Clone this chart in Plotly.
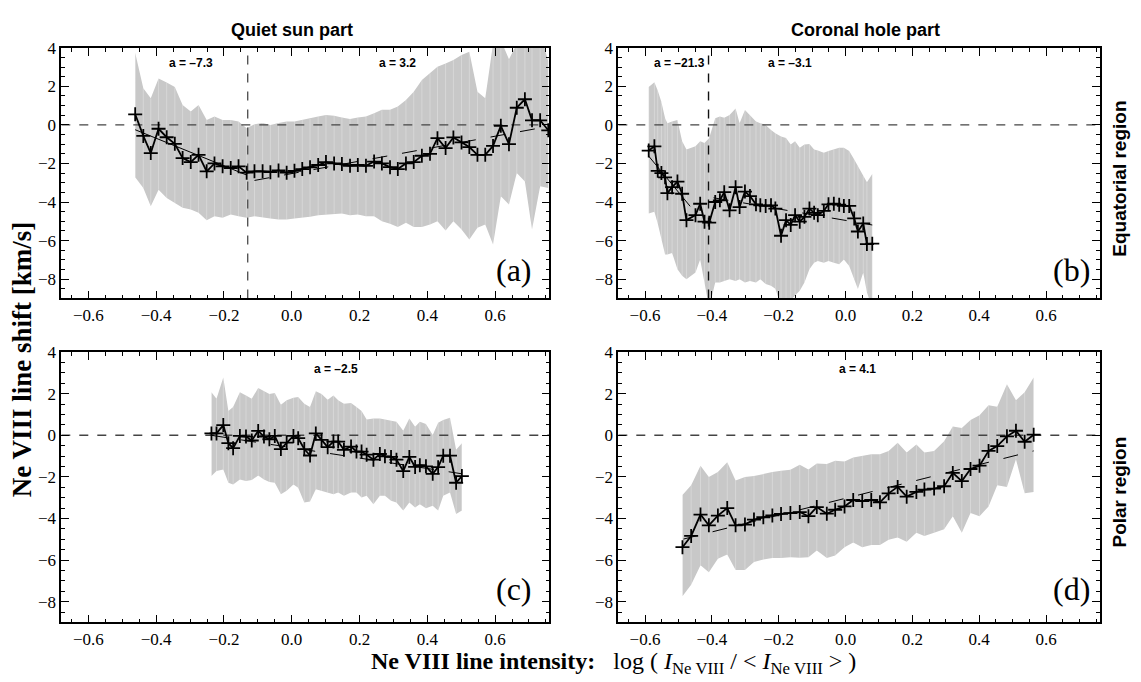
import plotly.graph_objects as go

W, H = 1141, 682

# ---------------- data ----------------
# Panel (a): quiet sun, equatorial
a_x = [-0.462, -0.438, -0.416, -0.393, -0.369, -0.345, -0.322, -0.298, -0.275, -0.251,
       -0.228, -0.204, -0.180, -0.157, -0.133, -0.110, -0.086, -0.063, -0.039, -0.015,
       0.008, 0.031, 0.054, 0.078, 0.101, 0.125, 0.148, 0.172, 0.195, 0.219,
       0.243, 0.266, 0.290, 0.313, 0.337, 0.360, 0.384, 0.408, 0.430, 0.454,
       0.477, 0.501, 0.524, 0.548, 0.571, 0.594, 0.617, 0.641, 0.664, 0.688,
       0.709, 0.733, 0.757]
a_y = [0.55, -0.57, -1.46, -0.20, -0.64, -0.98, -1.72, -1.93, -1.55, -2.41,
       -2.00, -2.15, -2.24, -2.15, -2.48, -2.41, -2.41, -2.45, -2.36, -2.48,
       -2.38, -2.29, -2.20, -2.08, -1.93, -2.00, -2.03, -2.12, -2.08, -2.12,
       -1.90, -2.00, -2.19, -2.29, -2.00, -1.93, -1.60, -1.50, -0.69, -1.20,
       -0.65, -0.91, -1.15, -1.55, -1.55, -1.09, -0.05, -1.00, 0.89, 1.33,
       0.24, 0.24, -0.28]
a_up = [3.74, 1.90, 1.38, 2.41, 2.20, 1.96, 1.03, 0.69, 1.03, 0.26,
        0.43, 0.26, 0.26, 0.18, -0.17, 0.04, 0.10, 0.00, 0.10, 0.18,
        0.18, 0.26, 0.31, 0.43, 0.52, 0.48, 0.38, 0.31, 0.38, 0.43,
        0.60, 0.78, 0.78, 0.95, 1.29, 1.72, 2.33, 2.67, 3.01, 3.19,
        3.36, 3.62, 3.79, 1.72, 1.38, 4.20, 4.40, 3.40, 4.20, 4.80,
        5.80, 4.80, 3.30]
a_lo = [-2.72, -3.27, -4.22, -3.36, -3.79, -4.05, -4.30, -4.39, -4.56, -4.94,
        -4.74, -4.82, -4.65, -4.74, -4.82, -4.74, -4.82, -4.86, -4.91, -4.91,
        -4.86, -4.82, -4.77, -4.69, -4.65, -4.60, -4.59, -4.69, -4.65, -4.74,
        -4.74, -5.00, -5.13, -5.30, -5.08, -5.30, -5.30, -5.17, -5.00, -5.48,
        -5.00, -5.43, -5.94, -5.34, -5.17, -6.20, -3.70, -4.13, -2.50, -2.93,
        -5.43, -3.18, -3.27]

# Panel (b): coronal hole, equatorial
b_x = [-0.589, -0.572, -0.562, -0.551, -0.540, -0.533, -0.519, -0.503, -0.489, -0.476,
       -0.449, -0.435, -0.422, -0.408, -0.390, -0.376, -0.363, -0.347, -0.329, -0.317,
       -0.301, -0.286, -0.268, -0.255, -0.239, -0.223, -0.210, -0.193, -0.178, -0.164,
       -0.151, -0.137, -0.123, -0.108, -0.094, -0.083, -0.065, -0.051, -0.035, -0.019,
       -0.005, 0.011, 0.026, 0.037, 0.053, 0.064, 0.080]
b_y = [-1.33, -1.11, -2.38, -2.50, -2.72, -3.54, -3.23, -2.94, -3.57, -4.94,
       -4.68, -4.09, -5.02, -5.07, -4.00, -3.91, -3.49, -4.43, -3.23, -4.26,
       -3.46, -3.69, -4.12, -4.17, -4.20, -4.17, -4.34, -5.75, -4.94, -5.19,
       -4.68, -5.02, -4.77, -4.34, -4.56, -4.68, -4.46, -4.12, -4.09, -4.14,
       -4.20, -4.20, -4.85, -5.53, -5.11, -6.18, -6.16]
b_up = [1.96, 2.21, 1.79, 1.19, 0.34, 0.09, 0.17, 0.26, -0.85, -1.28,
        -1.11, -0.85, -0.94, -0.68, 0.34, 0.43, 0.37, 0.51, 0.85, 0.09,
        0.77, 0.51, 0.17, 0.09, 0.00, -0.26, -0.43, -0.60, -0.68, -1.02,
        -0.85, -1.19, -1.02, -0.99, -1.28, -1.33, -1.45, -1.36, -1.28, -1.19,
        -1.19, -1.36, -1.79, -2.13, -2.64, -2.98, -2.55]
b_lo = [-4.60, -4.51, -5.11, -5.96, -6.72, -6.72, -6.64, -7.49, -7.83, -8.00,
        -7.66, -6.98, -8.34, -9.50, -8.17, -8.17, -8.10, -8.00, -8.10, -8.00,
        -8.17, -8.10, -8.17, -8.00, -8.25, -8.34, -8.50, -9.40, -9.20, -9.10,
        -8.85, -8.60, -8.17, -7.49, -7.15, -7.06, -7.15, -7.06, -7.15, -7.23,
        -6.98, -7.32, -8.00, -8.51, -7.66, -8.68, -9.53]

# Panel (c): quiet sun, polar
c_x = [-0.237, -0.222, -0.202, -0.187, -0.173, -0.153, -0.135, -0.118, -0.099, -0.082,
       -0.066, -0.050, -0.032, -0.015, 0.005, 0.019, 0.037, 0.054, 0.071, 0.088,
       0.106, 0.123, 0.137, 0.154, 0.175, 0.191, 0.206, 0.221, 0.241, 0.260,
       0.275, 0.293, 0.309, 0.329, 0.347, 0.364, 0.378, 0.396, 0.416, 0.432,
       0.447, 0.467, 0.485, 0.502]
c_y = [0.09, 0.09, 0.49, -0.38, -0.62, -0.03, -0.06, -0.25, 0.21, -0.06,
       -0.19, -0.03, -0.66, -0.35, -0.03, -0.14, -0.66, -0.97, 0.09, -0.22,
       -0.57, -0.30, -0.30, -0.70, -0.54, -0.78, -0.78, -0.93, -1.17, -0.90,
       -1.01, -1.04, -1.17, -1.72, -1.04, -1.52, -1.44, -1.49, -1.85, -1.53,
       -0.98, -0.98, -2.28, -1.96]
c_up = [2.07, 1.76, 2.78, 1.17, 1.36, 2.07, 1.91, 1.76, 2.28, 2.15,
        1.99, 2.03, 1.47, 1.68, 1.80, 1.84, 1.52, 1.36, 2.12, 1.99,
        1.71, 1.91, 1.68, 1.52, 1.55, 1.36, 1.17, 0.76, 0.81, 0.81,
        0.76, 0.73, 0.65, 0.22, 0.81, 0.41, 0.65, 0.54, 0.02, 0.60,
        0.73, 0.84, -0.70, -0.38]
c_lo = [-1.96, -1.72, -1.65, -2.28, -2.36, -2.12, -2.20, -2.15, -1.93, -2.12,
        -2.25, -2.28, -2.83, -2.67, -2.36, -2.52, -3.23, -3.18, -2.59, -2.67,
        -2.75, -2.83, -2.75, -2.91, -2.75, -2.75, -2.99, -2.91, -3.31, -2.91,
        -2.91, -3.15, -3.23, -3.62, -3.23, -3.47, -3.31, -3.51, -3.39, -3.62,
        -2.91, -2.75, -3.78, -3.62]

# Panel (d): coronal hole, polar
d_x = [-0.488, -0.462, -0.434, -0.409, -0.382, -0.354, -0.329, -0.301, -0.274, -0.246,
       -0.219, -0.193, -0.165, -0.137, -0.111, -0.086, -0.056, -0.031, -0.003, 0.023,
       0.050, 0.077, 0.103, 0.129, 0.156, 0.183, 0.212, 0.236, 0.265, 0.295,
       0.321, 0.348, 0.374, 0.401, 0.428, 0.454, 0.483, 0.510, 0.536, 0.563]
d_y = [-5.38, -4.84, -3.81, -4.33, -3.86, -3.50, -4.33, -4.29, -4.05, -3.94,
       -3.85, -3.78, -3.74, -3.69, -3.89, -3.45, -3.77, -3.58, -3.42, -3.11,
       -3.16, -3.11, -3.22, -2.79, -2.48, -2.95, -2.72, -2.61, -2.56, -2.45,
       -1.81, -2.20, -1.62, -1.46, -0.75, -0.52, -0.05, 0.22, -0.31, 0.03]
d_up = [-2.87, -2.40, -1.46, -2.01, -1.77, -1.30, -2.17, -2.01, -1.96, -1.85,
        -1.77, -1.70, -1.66, -1.41, -1.65, -1.35, -1.38, -1.22, -1.26, -1.07,
        -0.99, -0.91, -0.91, -0.75, -0.36, -0.83, -0.44, -0.83, -0.75, -0.28,
        0.42, 0.35, 0.74, 0.97, 1.44, 1.37, 2.46, 1.68, 2.07, 2.78]
d_lo = [-7.74, -7.19, -6.25, -6.59, -5.93, -5.73, -6.48, -6.48, -6.09, -5.97,
        -5.90, -5.90, -5.86, -5.89, -5.86, -5.54, -5.90, -5.78, -5.38, -5.15,
        -5.38, -5.27, -5.27, -5.02, -4.91, -5.12, -4.68, -4.84, -4.68, -4.52,
        -3.89, -4.68, -3.74, -3.89, -3.42, -2.40, -2.48, -1.15, -2.79, -2.72]

# linear fits: (x0, x1, y0, y1, style)
a_fits = [(-0.462, -0.133, -0.25, -2.60, "solid"), (-0.110, 0.757, -2.88, -0.08, "longdash")]
b_fits = [(-0.589, -0.465, -1.62, -4.22, "solid"), (-0.395, 0.080, -3.78, -5.19, "longdash")]
c_fits = [(-0.237, 0.502, 0.00, -1.85, "longdash")]
d_fits = [(-0.485, 0.563, -4.99, -0.75, "longdash")]

# slope labels (text, x, y)
a_slopes = [("a = \u20137.3", -0.297, 3.2), ("a = 3.2", 0.313, 3.2)]
b_slopes = [("a = \u201321.3", -0.497, 3.2), ("a = \u20133.1", -0.167, 3.2)]
c_slopes = [("a = \u20132.5", 0.132, 3.2)]
d_slopes = [("a = 4.1", 0.036, 3.2)]

# vertical separators
a_vline = -0.13
b_vline = -0.41

x_range = [-0.68, 0.76]
y_range = [-9, 4]
x_ticks = [-0.6, -0.4, -0.2, 0.0, 0.2, 0.4, 0.6]
y_ticks = [-8, -6, -4, -2, 0, 2, 4]

# ---------------- figure ----------------
fig = go.Figure()

px = lambda v: v / W
py = lambda v: 1 - v / H

doms = {
    1: ([px(61.3), px(549.3)], [py(293.3), py(39.3)]),
    2: ([px(618.3), px(1099.5)], [py(293.3), py(39.3)]),
    3: ([px(61.3), px(549.3)], [py(621.7), py(347.7)]),
    4: ([px(618.3), px(1099.5)], [py(621.7), py(347.7)]),
}

panels = [
    (1, a_x, a_y, a_up, a_lo, a_fits, a_slopes, a_vline, "(a)"),
    (2, b_x, b_y, b_up, b_lo, b_fits, b_slopes, b_vline, "(b)"),
    (3, c_x, c_y, c_up, c_lo, c_fits, c_slopes, None, "(c)"),
    (4, d_x, d_y, d_up, d_lo, d_fits, d_slopes, None, "(d)"),
]

SERIF = "Liberation Serif"
SANS = "Liberation Sans"
tickfont = dict(family=SERIF, size=17, color="black")
annotations = []

for i, xs, ys, up, lo, fits, slopes, vline, lab in panels:
    xa = "x" if i == 1 else f"x{i}"
    ya = "y" if i == 1 else f"y{i}"
    # band
    fig.add_trace(go.Scatter(x=xs, y=lo, mode="lines", line=dict(width=0, color="#c8c8c8"),
                             xaxis=xa, yaxis=ya, showlegend=False, hoverinfo="skip"))
    fig.add_trace(go.Scatter(x=xs, y=up, mode="lines", line=dict(width=0, color="#c8c8c8"),
                             fill="tonexty", fillcolor="#c8c8c8",
                             xaxis=xa, yaxis=ya, showlegend=False, hoverinfo="skip"))
    # faint stripes
    sx, sy = [], []
    for xv, u, l in zip(xs, up, lo):
        sx += [xv, xv, None]
        sy += [l, u, None]
    fig.add_trace(go.Scatter(x=sx, y=sy, mode="lines", line=dict(width=1, color="rgba(255,255,255,0.28)"),
                             xaxis=xa, yaxis=ya, showlegend=False, hoverinfo="skip"))
    # zero line
    fig.add_trace(go.Scatter(x=x_range, y=[0, 0], mode="lines",
                             line=dict(width=1.4, color="#444", dash="dash"),
                             xaxis=xa, yaxis=ya, showlegend=False, hoverinfo="skip"))
    if vline is not None:
        fig.add_trace(go.Scatter(x=[vline, vline], y=y_range, mode="lines",
                                 line=dict(width=1.4, color="#555" if i == 1 else "#111", dash="dash"),
                                 xaxis=xa, yaxis=ya, showlegend=False, hoverinfo="skip"))
    # fits
    for x0, x1, y0, y1, st in fits:
        fig.add_trace(go.Scatter(x=[x0, x1], y=[y0, y1], mode="lines",
                                 line=dict(width=1, color="black", dash=st),
                                 xaxis=xa, yaxis=ya, showlegend=False, hoverinfo="skip"))
    # data
    fig.add_trace(go.Scatter(x=xs, y=ys, mode="lines+markers",
                             line=dict(width=1.8, color="black"),
                             marker=dict(symbol="cross-thin", size=10, color="black",
                                         line=dict(width=1.8, color="black")),
                             xaxis=xa, yaxis=ya, showlegend=False))
    for t, tx, ty in slopes:
        annotations.append(dict(text=f"<b>{t}</b>", x=tx, y=ty, xref=xa, yref=ya, showarrow=False,
                                font=dict(family=SANS, size=12, color="black")))
    lx = 0.968 if i in (1, 3) else 0.985
    ly = 0.112 if i in (1, 2) else 0.125
    annotations.append(dict(text=lab, x=lx, y=ly, xref=f"{xa} domain", yref=f"{ya} domain",
                            xanchor="right", yanchor="middle", showarrow=False,
                            font=dict(family=SERIF, size=32, color="black")))

axis_common = dict(ticks="inside", ticklen=8, tickwidth=1.3, tickcolor="black",
                   showline=True, linecolor="black", linewidth=1.6, mirror="allticks",
                   showgrid=False, zeroline=False, tickfont=tickfont)

layout = dict(width=W, height=H, margin=dict(l=0, r=0, t=0, b=0),
              font=dict(family=SERIF, size=17, color="black"),
              paper_bgcolor="white", plot_bgcolor="white", showlegend=False)
for i in range(1, 5):
    xd, yd = doms[i]
    xk = "xaxis" if i == 1 else f"xaxis{i}"
    yk = "yaxis" if i == 1 else f"yaxis{i}"
    ya = "y" if i == 1 else f"y{i}"
    xa = "x" if i == 1 else f"x{i}"
    layout[xk] = dict(domain=xd, anchor=ya, range=x_range, tickvals=x_ticks, tickformat=".1f",
                      minor=dict(ticks="inside", ticklen=4, tickwidth=1, tickcolor="black", dtick=0.05, tick0=0),
                      **axis_common)
    layout[yk] = dict(domain=yd, anchor=xa, range=y_range, tickvals=y_ticks, tickformat="d",
                      minor=dict(ticks="inside", ticklen=4, tickwidth=1, tickcolor="black", dtick=0.5, tick0=0),
                      **axis_common)

sans_b = dict(family=SANS, size=18, color="black")
annotations += [
    dict(text="<b>Quiet sun part</b>", x=px(292), y=py(21.5), xref="paper", yref="paper",
         showarrow=False, font=sans_b, xanchor="center", yanchor="middle"),
    dict(text="<b>Coronal hole part</b>", x=px(865), y=py(21.5), xref="paper", yref="paper",
         showarrow=False, font=sans_b, xanchor="center", yanchor="middle"),
    dict(text="<b>Equatorial region</b>", x=px(1120), y=py(172), xref="paper", yref="paper",
         showarrow=False, textangle=-90, font=dict(family=SANS, size=19, color="black"),
         xanchor="center", yanchor="middle"),
    dict(text="<b>Polar region</b>", x=px(1120), y=py(490), xref="paper", yref="paper",
         showarrow=False, textangle=-90, font=dict(family=SANS, size=19, color="black"),
         xanchor="center", yanchor="middle"),
    dict(text="<b>Ne VIII line shift [km/s]</b>", x=px(22), y=py(355), xref="paper", yref="paper",
         showarrow=False, textangle=-90, font=dict(family=SERIF, size=27, color="black"),
         xanchor="center", yanchor="middle"),
    dict(text="<b>Ne VIII line intensity:</b>   log ( <i>I</i><sub>Ne VIII</sub> / &lt; <i>I</i><sub>Ne VIII</sub> &gt; )",
         x=px(613), y=py(663), xref="paper", yref="paper", showarrow=False,
         font=dict(family=SERIF, size=24, color="black"),
         xanchor="center", yanchor="middle"),
]
layout["annotations"] = annotations
fig.update_layout(**layout)

fig.write_html("out.html", config={"displayModeBar": False},
               post_script="document.body.style.margin='0';")
